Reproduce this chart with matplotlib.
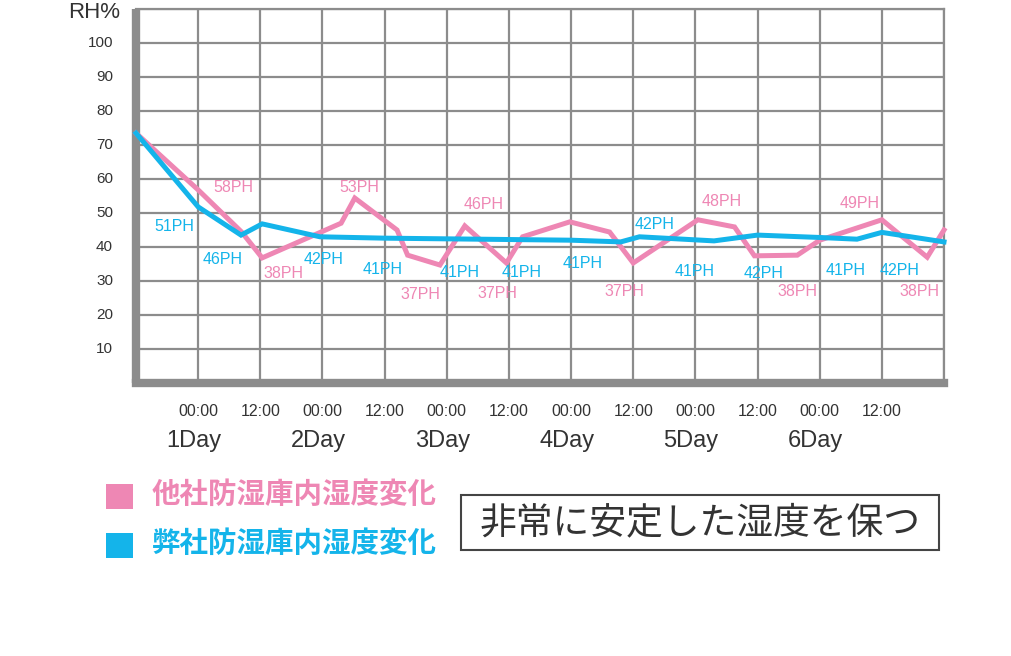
import matplotlib
matplotlib.use("Agg")
import matplotlib.pyplot as plt
from matplotlib.patches import Rectangle
from matplotlib.transforms import blended_transform_factory

# x is measured in half-days from the left edge of the grid
pink_x = [0, 1.0, 1.7, 2.03, 3.3, 3.52, 4.2, 4.37, 4.89, 5.29, 5.96, 6.22,
          6.98, 7.62, 8.0, 9.04, 9.63, 9.95, 10.64, 11.0, 12.0, 12.73, 13.0]
pink_y = [73.5, 56.8, 44.4, 36.8, 47.0, 54.4, 45.0, 37.6, 34.7, 46.2, 35.3, 43.0,
          47.4, 44.4, 35.3, 48.0, 45.9, 37.4, 37.6, 42.0, 48.0, 37.0, 45.0]

blue_x = [0, 1.0, 1.69, 2.03, 2.96, 4.0, 5.0, 6.0, 7.0, 7.8, 8.1, 9.3,
          10.0, 11.0, 11.6, 12.0, 13.0]
blue_y = [73.5, 51.8, 43.5, 46.8, 43.0, 42.6, 42.4, 42.2, 42.0, 41.5, 43.0, 41.8,
          43.5, 42.8, 42.3, 44.3, 41.5]

pink_labels = ["58PH", "38PH", "53PH", "37PH", "46PH", "37PH", "37PH",
               "48PH", "38PH", "49PH", "38PH"]
pink_lab_x = [1.56, 2.37, 3.60, 4.57, 5.60, 5.81, 7.85, 9.43, 10.65, 11.65, 12.60]
pink_lab_y = [57.4, 32.1, 57.6, 25.9, 52.4, 26.2, 26.8, 53.5, 26.8, 52.9, 26.8]

blue_labels = ["51PH", "46PH", "42PH", "41PH", "41PH", "41PH", "41PH",
               "42PH", "41PH", "42PH", "41PH", "42PH"]
blue_lab_x = [0.61, 1.40, 3.02, 3.96, 5.20, 6.21, 7.18, 8.35, 8.99, 10.09, 11.41, 12.29]
blue_lab_y = [45.9, 36.2, 36.2, 33.5, 32.4, 32.4, 35.0, 46.5, 32.9, 32.1, 33.2, 33.2]

time_ticks = list(range(1, 13))
time_labels = ["00:00", "12:00"] * 6
day_pos = [1, 3, 5, 7, 9, 11]
day_labels = ["1Day", "2Day", "3Day", "4Day", "5Day", "6Day"]
y_ticks = list(range(10, 101, 10))

legend_labels = ["他社防湿庫内湿度変化", "弊社防湿庫内湿度変化"]
note_text = "非常に安定した湿度を保つ"

PINK = "#ee87b4"
BLUE = "#14b4ea"
GRAY = "#8c8c8c"
DARK = "#333333"
LATIN = ["Liberation Sans", "DejaVu Sans"]
CJK = ["Noto Sans CJK JP", "DejaVu Sans"]

W, H = 1011, 656
fig = plt.figure(figsize=(W / 100, H / 100), dpi=100)


def fx(px):
    return px / W


def fy(py):
    return 1 - py / H


ax = fig.add_axes([fx(136), fy(383), (944 - 136) / W, (383 - 9) / H])
ax.set_xlim(0, 13)
ax.set_ylim(0, 110)

# grid
ax.set_xticks(range(0, 14))
ax.set_yticks(range(0, 111, 10))
ax.grid(True, color=GRAY, linewidth=1.6)
ax.set_axisbelow(True)
ax.tick_params(length=0, labelbottom=False, labelleft=False)

for side in ("top", "right"):
    ax.spines[side].set_color(GRAY)
    ax.spines[side].set_linewidth(1.6)
for side in ("left", "bottom"):
    ax.spines[side].set_color(GRAY)
    ax.spines[side].set_linewidth(6)
ax.spines["left"].set_capstyle("butt")
ax.spines["bottom"].set_capstyle("projecting")

ax.plot(pink_x, pink_y, color=PINK, linewidth=3.6, solid_joinstyle="miter", zorder=3, clip_on=False)
ax.plot(blue_x, blue_y, color=BLUE, linewidth=3.6, solid_joinstyle="miter", zorder=4, clip_on=False)

for t, x, y in zip(pink_labels, pink_lab_x, pink_lab_y):
    ax.text(x, y, t, color=PINK, fontsize=11.5, family=LATIN, ha="center", va="center", zorder=5)
for t, x, y in zip(blue_labels, blue_lab_x, blue_lab_y):
    ax.text(x, y, t, color=BLUE, fontsize=11.5, family=LATIN, ha="center", va="center", zorder=5)

# axis text
for v in y_ticks:
    ax.text(-23 / 62.15, v, str(v), fontsize=11, family=LATIN, color=DARK, ha="right", va="center")
ax.text(-16 / 62.15, (383 - 18) / 3.4, "RH%", fontsize=16, family=LATIN, color=DARK,
        ha="right", va="baseline")

tr = blended_transform_factory(ax.transData, ax.transAxes)
for x, t in zip(time_ticks, time_labels):
    ax.text(x, (383 - 412) / 374, t, transform=tr, fontsize=11.5, family=LATIN,
            color=DARK, ha="center", va="center")
for x, t in zip(day_pos, day_labels):
    ax.text(x - 0.07, (383 - 441) / 374, t, transform=tr, fontsize=17, family=LATIN,
            color=DARK, ha="center", va="center")

# legend
for i, (lab, col) in enumerate(zip(legend_labels, [PINK, BLUE])):
    top = 484 + 49 * i
    fig.patches.append(Rectangle((fx(106), fy(top + 25)), 27 / W, 25 / H,
                                 transform=fig.transFigure, color=col, linewidth=0))
    fig.text(fx(152), fy(top + 11), lab, fontsize=20.5, family=CJK, weight="bold",
             color=col, ha="left", va="center")

# boxed note
fig.patches.append(Rectangle((fx(461), fy(550)), (939 - 461) / W, (550 - 495) / H,
                             transform=fig.transFigure, facecolor="white",
                             edgecolor="#444444", linewidth=1.5))
fig.text(fx(700), fy(523), note_text, fontsize=26.5, family=CJK, color=DARK,
         ha="center", va="center")

fig.savefig("out.png", dpi=100)
